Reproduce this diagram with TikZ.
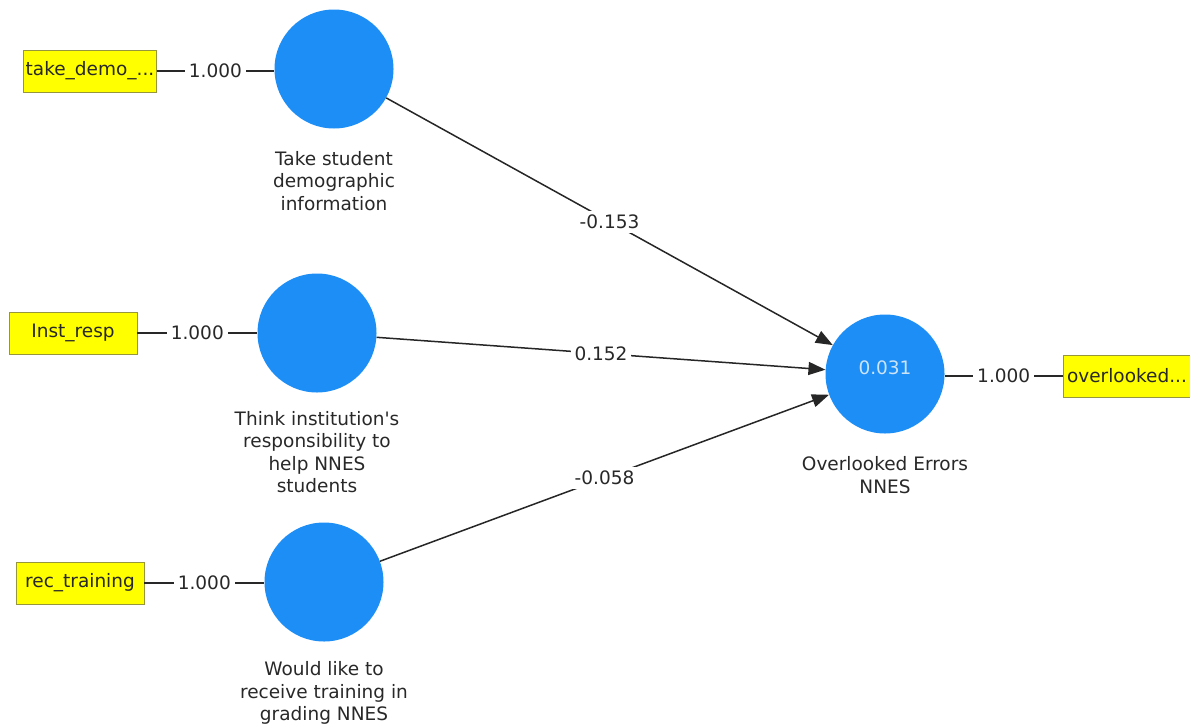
\documentclass[tikz,border=0pt]{standalone}
\usepackage{fontspec}
\setmainfont{DejaVu Sans}
\usetikzlibrary{arrows.meta}
\definecolor{lvblue}{RGB}{28,142,245}
\definecolor{lvtext}{RGB}{205,228,248}
\definecolor{mvyellow}{RGB}{255,255,0}
\definecolor{mvborder}{RGB}{150,150,60}
\definecolor{txt}{RGB}{40,40,40}
\begin{document}
\begin{tikzpicture}[x=1pt,y=-1pt,
  every node/.style={font=\fontsize{18.5}{22.5}\selectfont, text=txt},
  latent/.style={circle, fill=lvblue, minimum size=119pt, inner sep=0pt},
  manifest/.style={rectangle, fill=mvyellow, draw=mvborder, line width=0.6pt, minimum width=128pt, minimum height=42pt, inner sep=2pt},
  caption/.style={align=center},
  loadline/.style={line width=1.5pt, draw=txt},
  pathline/.style={line width=1.5pt, draw=black!85, -{Triangle[length=17pt,width=13pt]}},
  wlabel/.style={fill=white, inner sep=4pt}
]
\useasboundingbox (0,0) rectangle (1190,726);

% latent variables
\node[latent] (c1) at (334,69) {};
\node[latent] (c2) at (317,333) {};
\node[latent] (c3) at (324,582) {};
\node[latent] (c4) at (885,374) {};
\node[text=lvtext] (r2) at (885,368) {0.031};

% captions
\node[caption] (t1) at (334,181) {Take student\\demographic\\information};
\node[caption] (t2) at (317,452) {Think institution\textquotesingle s\\responsibility to\\help NNES\\students};
\node[caption] (t3) at (324,693) {Would like to\\receive training in\\grading NNES};
\node[caption] (t4) at (885,475) {Overlooked Errors\\NNES};

% indicators
\node[manifest] (m1) at (90,71) {take\_demo\_...};
\node[manifest] (m2) at (73,333) {Inst\_resp};
\node[manifest] (m3) at (80,583) {rec\_training};
\node[manifest] (m4) at (1127,376) {overlooked...};

% loadings
\draw[loadline] (m1.east) -- node[wlabel] {1.000} (c1.west |- m1.east);
\draw[loadline] (m2.east) -- node[wlabel] {1.000} (c2.west |- m2.east);
\draw[loadline] (m3.east) -- node[wlabel] {1.000} (c3.west |- m3.east);
\draw[loadline] (c4.east |- m4.west) -- node[wlabel] {1.000} (m4.west);

% paths
\draw[pathline] (c1) -- node[wlabel] {-0.153} (c4);
\draw[pathline] (c2) -- node[wlabel] {0.152} (c4);
\draw[pathline] (c3) -- node[wlabel] {-0.058} (c4);
\end{tikzpicture}
\end{document}
